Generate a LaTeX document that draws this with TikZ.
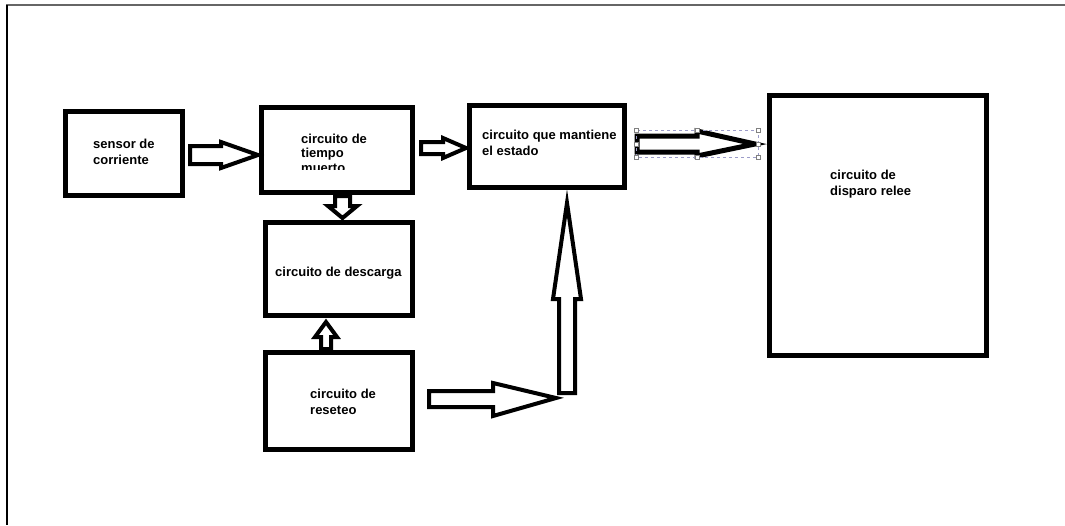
\documentclass[tikz,border=0pt]{standalone}
\usepackage{fontspec}
\setmainfont{Liberation Sans}
\begin{document}
\begin{tikzpicture}[x=1pt,y=-1pt,
  box/.style={draw=black,line width=5pt,fill=white},
  barrow/.style={draw=black,line width=4pt,fill=white,line join=miter},
  lbl/.style={anchor=base west,inner sep=0pt,font=\fontsize{13}{16}\selectfont\bfseries},
  handle/.style={draw=gray,fill=white,line width=0.6pt,minimum size=4pt,inner sep=0pt,rectangle},
  selbox/.style={draw=gray!70!blue!60,dashed,line width=0.6pt}]
\useasboundingbox (0,0) rectangle (1065,525);
\fill[white] (0,0) rectangle (1065,525);
% window frame
\draw[gray!80!black,line width=1.6pt] (6,5) -- (1065,5);
\draw[black,line width=1.6pt] (7,5) -- (7,525);
% boxes
\draw[box] (65.5,111.5) rectangle (182.5,195.5);
\draw[box] (261.5,107.5) rectangle (412.5,192.5);
\draw[box] (469.5,105.5) rectangle (624.5,187.5);
\draw[box] (769.5,95.5) rectangle (986.5,355.5);
\draw[box] (265.5,222.5) rectangle (412.5,315.5);
\draw[box] (265.5,352.5) rectangle (412.5,449.5);
% labels
\node[lbl] (t1) at (93,148) {sensor de};
\node[lbl] (t2) at (93,164) {corriente};
\node[lbl] (t3) at (301,143) {circuito de};
\node[lbl] (t4) at (301,157) {tiempo};
\begin{scope}
\clip (280,100) rectangle (410,169.5);
\node[lbl] (t5) at (301,172.5) {muerto};
\end{scope}
\node[lbl] (t6) at (482,139) {circuito que mantiene};
\node[lbl] (t7) at (482,155) {el estado};
\node[lbl] (t8) at (830,179) {circuito de};
\node[lbl] (t9) at (830,195) {disparo relee};
\node[lbl] (t10) at (275,276) {circuito de descarga};
\node[lbl] (t11) at (310,398) {circuito de};
\node[lbl] (t12) at (310,414) {reseteo};
% block arrows
\draw[barrow] (190,146) -- (221,146) -- (221,142) -- (258,155) -- (221,168) -- (221,164) -- (190,164) -- cycle;
\draw[barrow] (421,142) -- (443,142) -- (443,138) -- (466,148) -- (443,158) -- (443,154) -- (421,154) -- cycle;
\draw[barrow,line width=5pt] (637,136) -- (697,136) -- (697,131) -- (755,144) -- (697,156) -- (697,152) -- (637,152) -- cycle;
\draw[barrow] (335,196) -- (350,196) -- (350,206) -- (357,206) -- (342.5,218) -- (328,206) -- (335,206) -- cycle;
\draw[barrow] (321,349) -- (331,349) -- (331,337) -- (337,337) -- (326,322) -- (315,337) -- (321,337) -- cycle;
\draw[barrow] (429,391) -- (493,391) -- (493,383) -- (556,398) -- (493,416) -- (493,407) -- (429,407) -- cycle;
\draw[barrow] (559,393) -- (559,299) -- (553,299) -- (567,203) -- (581,299) -- (575,299) -- (575,393) -- cycle;
% selection frame around the arrow
\draw[selbox] (636,130) rectangle (758,157);
\foreach \p/\q in {636/130,697/130,758/130,636/144,758/144,636/157,697/157,758/157}
  \node[handle] at (\p,\q) {};
\end{tikzpicture}
\end{document}
